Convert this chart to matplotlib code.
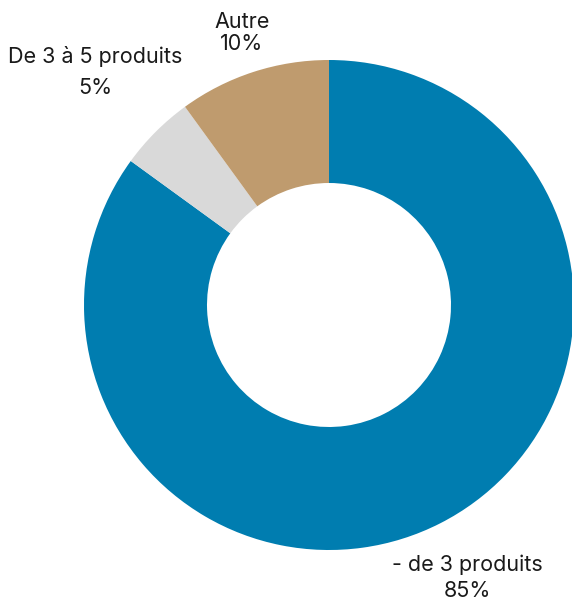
import matplotlib.pyplot as plt

# données
categories = ['- de 3 produits', 'De 3 à 5 produits', 'Autre']
valeurs = [85, 5, 10]
couleurs = ['#007DB0', '#D9D9D9', '#BF9B6E']

plt.rcParams['font.family'] = ['Inter', 'DejaVu Sans']

W, H = 572, 601
fig = plt.figure(figsize=(W / 100, H / 100), dpi=100)
ax = fig.add_axes([0, 0, 1, 1])

# centre et rayons en pixels (y vers le bas -> sens horaire inversé)
cx, cy, r = 329, 305, 245
ax.pie(valeurs, colors=couleurs, startangle=-90, counterclock=True,
       center=(cx, cy), radius=r, frame=True,
       wedgeprops=dict(width=r - 122, linewidth=0))
ax.set_xlim(0, W)
ax.set_ylim(H, 0)
ax.set_aspect('equal')
ax.axis('off')

# étiquettes
pos = {'Autre': (242, 33, 1.15),
       'De 3 à 5 produits': (95, 72, 1.7),
       '- de 3 produits': (467, 578, 1.35)}
for cat, v in zip(categories, valeurs):
    x, y, ls = pos[cat]
    ax.text(x, y, f'{cat}\n{v}%', ha='center', va='center', fontsize=15.5,
            color='#1a1a1a', linespacing=ls)

fig.savefig('out.png', dpi=100)
